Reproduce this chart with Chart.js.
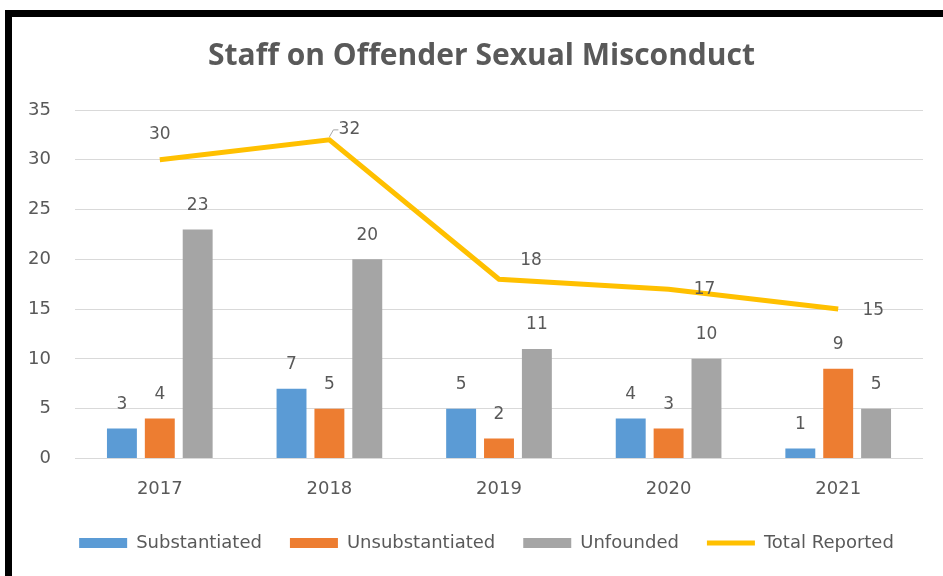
<!DOCTYPE html>
<html>
<head>
<meta charset="utf-8">
<script src="https://cdn.jsdelivr.net/npm/chart.js@4/dist/chart.umd.min.js"></script>
<style>
html,body{margin:0;padding:0;background:#fff;}
#wrap{position:relative;width:943px;height:576px;overflow:hidden;}
#frame{position:absolute;left:5px;top:10px;width:960px;height:600px;border-left:7px solid #000;border-top:7px solid #000;pointer-events:none;}
canvas{position:absolute;left:0;top:0;}
</style>
</head>
<body>
<div id="wrap">
<canvas id="myChart" width="943" height="576"></canvas>
<div id="frame"></div>
</div>
<script>
var years=['2017','2018','2019','2020','2021'];
var substantiated=[3,7,5,4,1];
var unsubstantiated=[4,5,2,3,9];
var unfounded=[23,20,11,10,5];
var totalReported=[30,32,18,17,15];
var yticks=[0,5,10,15,20,25,30,35];

var txtcolor='#595959';
var fontfam="'DejaVu Sans', sans-serif";

// label offsets for the total line (dx,dy from point), excel put them unevenly
var lineLabelOff=[[0,-25],[20,-10],[32,-19],[36,0],[35,1]];

var valueLabels={
	id:'valueLabels',
	afterLayout:function(chart){
		// legend sits a bit closer to the axis labels and both title and legend are centred on the frame, not the canvas
		chart.legend.top-=14;
		chart.legend.bottom-=14;
		chart.legend.left+=25;
		chart.legend.right+=25;
		chart.titleBlock.left+=20;
		chart.titleBlock.right+=20;
	},
	afterDatasetsDraw:function(chart){
		var ctx=chart.ctx;
		ctx.save();
		ctx.font='17px '+fontfam;
		ctx.fillStyle=txtcolor;
		ctx.textAlign='center';
		ctx.textBaseline='middle';
		for(var d=0; d<chart.data.datasets.length; d++){
			var ds=chart.data.datasets[d];
			var meta=chart.getDatasetMeta(d);
			for(var i=0; i<meta.data.length; i++){
				var el=meta.data[i];
				if(ds.type=='line'){
					var px=el.x+lineLabelOff[i][0];
					var py=el.y+lineLabelOff[i][1];
					if(i==1){
						// little leader line
						ctx.strokeStyle='#A6A6A6';
						ctx.lineWidth=1;
						ctx.beginPath();
						ctx.moveTo(el.x,el.y-3);
						ctx.lineTo(el.x+4,el.y-10);
						ctx.lineTo(el.x+9,el.y-10);
						ctx.stroke();
					}
					ctx.fillText(ds.data[i],px,py);
				}else{
					ctx.fillText(ds.data[i],el.x,el.y-24);
				}
			}
		}
		ctx.restore();
	}
};

var ctx=document.getElementById('myChart').getContext('2d');
var myChart=new Chart(ctx,{
	type:'bar',
	data:{
		labels:years,
		datasets:[
			{label:'Substantiated',data:substantiated,backgroundColor:'#5B9BD5',pointStyle:'rect'},
			{label:'Unsubstantiated',data:unsubstantiated,backgroundColor:'#ED7D31',pointStyle:'rect'},
			{label:'Unfounded',data:unfounded,backgroundColor:'#A5A5A5',pointStyle:'rect'},
			{type:'line',label:'Total Reported',data:totalReported,borderColor:'#FFC000',backgroundColor:'#FFC000',
				borderWidth:5,pointRadius:0,pointHoverRadius:0,pointStyle:'line',tension:0}
		]
	},
	options:{
		responsive:false,
		animation:false,
		events:[],
		categoryPercentage:0.67,
		barPercentage:0.79,
		layout:{padding:{left:0,right:20,top:0,bottom:0}},
		plugins:{
			title:{
				display:true,
				text:'Staff on Offender Sexual Misconduct',
				color:txtcolor,
				font:{family:"'Open Sans', sans-serif",size:30,weight:'bold'},
				padding:{top:38,bottom:36}
			},
			legend:{
				position:'bottom',
				labels:{
					color:txtcolor,
					font:{family:fontfam,size:18},
					usePointStyle:true,
					pointStyleWidth:48,
					boxHeight:10,
					padding:28
				}
			},
			tooltip:{enabled:false}
		},
		scales:{
			x:{
				grid:{display:false,drawTicks:false},
				border:{display:false},
				ticks:{color:txtcolor,font:{family:fontfam,size:18},padding:20}
			},
			y:{
				min:0,
				max:35,
				afterBuildTicks:function(scale){
					scale.ticks=yticks.map(function(v){return {value:v};});
				},
				afterFit:function(scale){
					scale.width=75;
				},
				grid:{color:'#D9D9D9',lineWidth:1,drawTicks:false},
				border:{display:false},
				ticks:{color:txtcolor,font:{family:fontfam,size:18},padding:24}
			}
		}
	},
	plugins:[valueLabels]
});
</script>
</body>
</html>
